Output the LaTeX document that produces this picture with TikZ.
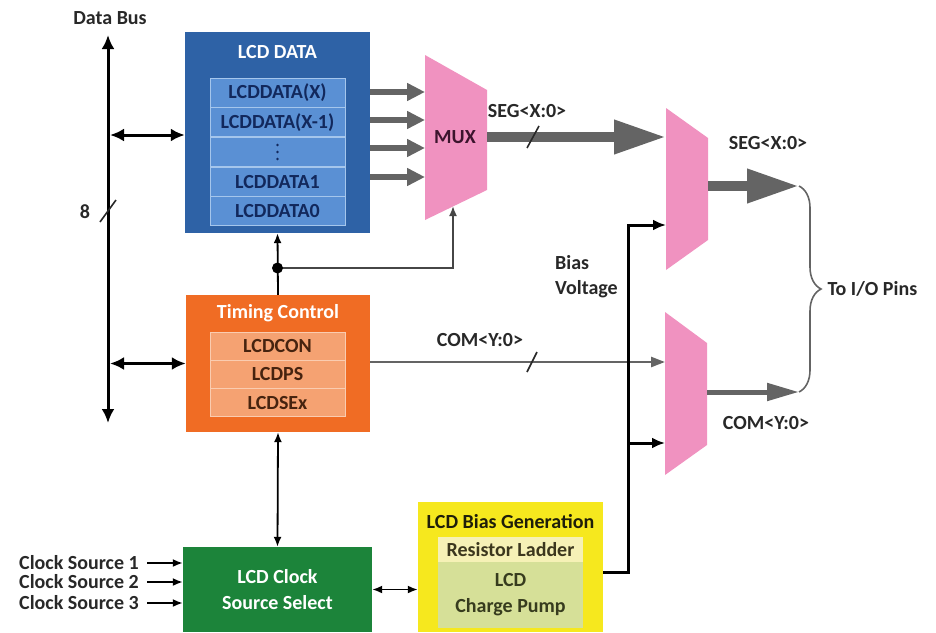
\documentclass[tikz,border=0pt]{standalone}
\usepackage{fontspec}
\setmainfont{Carlito}
\usetikzlibrary{arrows.meta, positioning, decorations.pathreplacing}
\definecolor{datablue}{RGB}{46, 98, 166}
\definecolor{rowblue}{RGB}{90, 144, 212}
\definecolor{rowlineblue}{RGB}{165, 198, 236}
\definecolor{rowtextblue}{RGB}{18, 40, 92}
\definecolor{timeorange}{RGB}{240, 108, 36}
\definecolor{roworange}{RGB}{245, 162, 114}
\definecolor{rowlineorange}{RGB}{250, 204, 176}
\definecolor{clkgreen}{RGB}{28, 132, 58}
\definecolor{biasyellow}{RGB}{246, 232, 30}
\definecolor{ladderyellow}{RGB}{246, 241, 182}
\definecolor{pumpgreen}{RGB}{214, 224, 152}
\definecolor{muxpink}{RGB}{240, 146, 192}
\definecolor{wiregray}{RGB}{100, 100, 100}
\definecolor{labelgray}{RGB}{40, 40, 40}

\begin{document}
\begin{tikzpicture}[x=1pt, y=-1pt,
  every node/.style={font=\fontsize{20}{24}\selectfont\bfseries, text=labelgray},
  outerbox/.style={inner sep=0pt, minimum width=#1},
  rowbox/.style={inner sep=0pt, minimum width=135pt, minimum height=29pt},
  busarrow/.style={line width=3pt, {Latex[length=14pt,width=13pt]}-{Latex[length=14pt,width=13pt]}},
  feedarrow/.style={line width=6pt, wiregray, -{Triangle[length=18pt,width=17pt]}},
  segarrow/.style={line width=10pt, wiregray, -{Triangle[length=52pt,width=32pt]}},
  comarrow/.style={line width=5pt, wiregray, -{Triangle[length=32pt,width=17pt]}},
  comline/.style={line width=2.5pt, wiregray, -{Triangle[length=14pt,width=10pt]}},
  biasline/.style={line width=3pt, -{Latex[length=13pt,width=11pt]}},
  thinarrow/.style={line width=1.8pt, -{Latex[length=10pt,width=8pt]}},
  thinboth/.style={line width=1.8pt, {Latex[length=10pt,width=8pt]}-{Latex[length=10pt,width=8pt]}},
  slash/.style={line width=1.6pt, labelgray}
]
  \useasboundingbox (0,0) rectangle (936,632);

  % blocks
  \node[outerbox=185pt, minimum height=201pt, fill=datablue] (data) at (277.5,132.5) {};
  \node[text=white] (datatitle) at (277.5,52) {LCD DATA};
  \foreach \txt [count=\i] in {LCDDATA(X), LCDDATA(X-1), {}, LCDDATA1, LCDDATA0}
    \node[rowbox, fill=rowblue, draw=rowlineblue, line width=1pt, text=rowtextblue] (d\i) at (277.5, 78+29.6*\i-14.8) {\txt};
  \foreach \dy in {-7, 0, 7}
    \fill[rowtextblue] ([yshift=\dy pt]d3.center) circle (1.4pt);

  \node[outerbox=184pt, minimum height=137pt, fill=timeorange] (timing) at (278,363.5) {};
  \node[text=white] (timingtitle) at (278,313) {Timing Control};
  \foreach \txt [count=\i] in {LCDCON, LCDPS, LCDSEx}
    \node[rowbox, minimum height=28.3pt, fill=roworange, draw=rowlineorange, line width=1pt, text={rgb,255:red,70;green,35;blue,15}] (t\i) at (277.5, 332+28.3*\i-14.15) {\txt};

  \node[outerbox=189pt, minimum height=85pt, fill=clkgreen, text=white, align=center] (clk) at (277.5,589.5) {LCD Clock\\[2pt]Source Select};

  \node[outerbox=185pt, minimum height=130pt, fill=biasyellow] (bias) at (510.5,567) {};
  \node[text={rgb,255:red,30;green,30;blue,10}] (biastitle) at (510.5,522) {LCD Bias Generation};
  \node[outerbox=145pt, minimum height=25pt, fill=ladderyellow, text={rgb,255:red,60;green,55;blue,30}] (ladder) at (510.5,549.5) {Resistor Ladder};
  \node[outerbox=145pt, minimum height=66pt, fill=pumpgreen, text={rgb,255:red,55;green,60;blue,30}, align=center] (pump) at (510.5,595) {LCD\\[2pt]Charge Pump};

  % multiplexers
  \fill[muxpink] (425,55) -- (487,90) -- (487,190) -- (425,220) -- cycle;
  \node[text={rgb,255:red,60;green,20;blue,45}] (mux) at (455,137) {MUX};
  \fill[muxpink] (666,108) -- (708,138) -- (708,240) -- (666,270) -- cycle;
  \fill[muxpink] (665,312) -- (707,343) -- (707,445) -- (665,475) -- cycle;
  \foreach \y [count=\i] in {92, 120, 148, 177}
    \coordinate (in\i) at (425,\y);
  \coordinate (muxout) at (487,137);
  \coordinate (muxsel) at (453,206);
  \coordinate (segin) at (666,137);
  \coordinate (segbias) at (666,225);
  \coordinate (segout) at (708,186);
  \coordinate (comin) at (665,362);
  \coordinate (combias) at (665,443);
  \coordinate (comout) at (707,392);
  \coordinate (segend) at (799,186);
  \coordinate (comend) at (799,392);

  % data bus
  \coordinate (bustop) at (108,35);
  \coordinate (busbot) at (108,423);
  \node (buslabel) at (110,18) {Data Bus};
  \draw[busarrow] (busbot) -- (bustop);
  \draw[slash] (100,222) -- (116,200);
  \node (buswidth) at (85,212) {8};
  \coordinate (busd) at (110,135);
  \draw[busarrow] (busd) -- (busd -| data.west);
  \draw[busarrow] (timing.west -| busd) -- (timing.west);

  % data to mux to segment driver
  \foreach \i in {1,...,4}
    \draw[feedarrow] (data.east |- in\i) -- (in\i);
  \draw[segarrow] (muxout) -- (segin);
  \draw[slash] (527,148) -- (539,126);
  \node (seglabel) at (527,111) {SEG<X:0>};
  \draw[segarrow] (segout) -- (segend);
  \node (seglabel2) at (768,143) {SEG<X:0>};

  % timing control links
  \coordinate (tap) at (277.5,268);
  \draw[thinarrow] (timing.north) -- (data.south);
  \draw[thinarrow, wiregray!70!black] (tap) -| (muxsel);
  \fill (tap) circle (5.5pt);
  \draw[thinboth] (timing.south) -- (clk.north);
  \draw[comline] (timing.east |- comin) -- (comin);
  \draw[slash] (527,372) -- (537,352);
  \node (comlabel) at (480,340) {COM<Y:0>};
  \draw[comarrow] (comout) -- (comend);
  \node (comlabel2) at (766,423) {COM<Y:0>};

  % bias voltage
  \coordinate (bturn) at (628,572);
  \draw[biasline] (bias.east |- bturn) -- (bturn) |- (segbias);
  \draw[biasline] (bturn |- combias) -- (combias);
  \node[align=left, anchor=north west, inner sep=0pt] (biaslabel) at (555,255) {Bias\\[1pt]Voltage};

  % clock sources
  \foreach \y [count=\i] in {563, 582, 603} {
    \node[anchor=east, inner sep=0pt] (cs\i) at (139,\y) {Clock Source \i};
    \draw[thinarrow] ([xshift=8pt]cs\i.east) -- (cs\i.east -| clk.west);
  }
  \draw[thinboth] (clk.east) -- (clk.east -| bias.west);

  % output pins
  \draw[wiregray, line width=1.6pt, decorate, decoration={brace, amplitude=22pt}] (segend) -- (comend);
  \node[anchor=west] (pins) at (824,289) {To I/O Pins};
\end{tikzpicture}
\end{document}
